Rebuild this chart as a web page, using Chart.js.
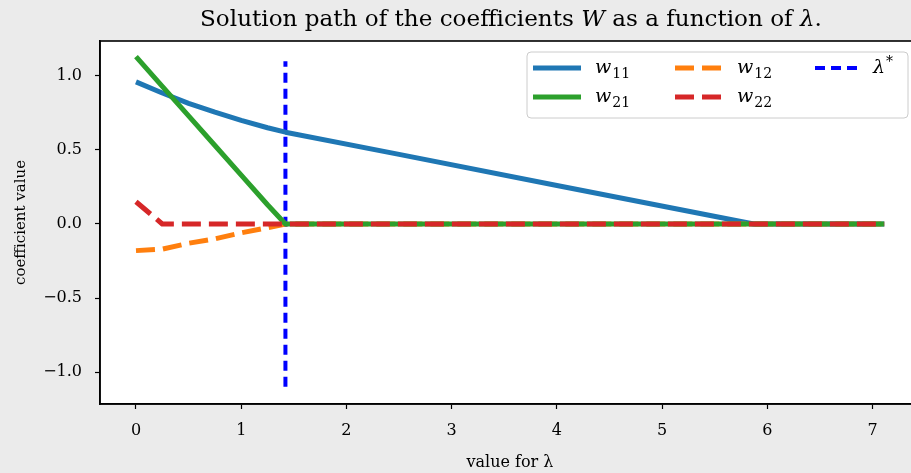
<!DOCTYPE html>
<html>
<head>
<meta charset="utf-8">
<script src="https://cdn.jsdelivr.net/npm/chart.js@4.4.1/dist/chart.umd.min.js"></script>
<style>
  html, body { margin: 0; padding: 0; background: #ebebeb; overflow: hidden; }
  #wrap { width: 925px; height: 473px; }
</style>
</head>
<body>
<div id="wrap"><canvas id="myChart" width="925" height="473"></canvas></div>
<script>
// lambda grid and coefficient paths
const lambdas = [0, 0.25, 0.5, 0.75, 1.0, 1.25, 1.42, 2.5, 4.0, 5.87, 7.11];
const w11 = [0.96, 0.885, 0.815, 0.755, 0.70, 0.65, 0.62, 0.47, 0.26, 0, 0];
const w21 = [1.13, 0.93, 0.73, 0.53, 0.33, 0.13, 0, 0, 0, 0, 0];
const w12 = [-0.18, -0.17, -0.13, -0.10, -0.06, -0.025, 0, 0, 0, 0, 0];
const w22 = [0.15, 0, 0, 0, 0, 0, 0, 0, 0, 0, 0];

const lambdaStar = 1.42;
const vlineY = [-1.1, 1.1];

const xTicks = [0, 1, 2, 3, 4, 5, 6, 7];
const yTicks = [-1.0, -0.5, 0.0, 0.5, 1.0];

const FONT = "'DejaVu Serif', 'Liberation Serif', serif";

function toPoints(ys) {
  return lambdas.map((x, i) => ({x: x, y: ys[i]}));
}

// legend entries
const legendItems = [
  {color: '#1f77b4', dash: [], main: 'w', sub: '11', col: 0, row: 0},
  {color: '#2ca02c', dash: [], main: 'w', sub: '21', col: 0, row: 1},
  {color: '#ff7f0e', dash: [19, 8], main: 'w', sub: '12', col: 1, row: 0},
  {color: '#d62728', dash: [19, 8], main: 'w', sub: '22', col: 1, row: 1},
  {color: '#0000ff', dash: [10, 6], main: 'λ', sub: '*', col: 2, row: 0, width: 4}
];

const titleAndLegend = {
  id: 'titleAndLegend',
  afterDraw(chart) {
    const ctx = chart.ctx;
    const area = chart.chartArea;
    ctx.save();

    // frame on all four sides
    ctx.strokeStyle = '#000';
    ctx.lineWidth = 1.6;
    ctx.strokeRect(area.left, area.top, area.right - area.left, area.bottom - area.top);

    // title with italic W and lambda, fitted to the reference width
    const parts = [
      ['Solution path of the coefficients ', false],
      ['W', true],
      [' as a function of ', false],
      ['λ', true],
      ['.', false]
    ];
    const measure = size => {
      let t = 0;
      parts.forEach(p => {
        ctx.font = (p[1] ? 'italic ' : '') + size + 'px ' + FONT;
        t += ctx.measureText(p[0]).width;
      });
      return t;
    };
    let size = 20;
    size = size * 622 / measure(size);
    const total = measure(size);
    let x = 511 - total / 2;
    ctx.fillStyle = '#000';
    ctx.textBaseline = 'alphabetic';
    parts.forEach(p => {
      ctx.font = (p[1] ? 'italic ' : '') + size + 'px ' + FONT;
      ctx.fillText(p[0], x, 26);
      x += ctx.measureText(p[0]).width;
    });

    // legend box
    const bx = 527, by = 52, bw = 381, bh = 66;
    ctx.beginPath();
    ctx.roundRect(bx, by, bw, bh, 4);
    ctx.fillStyle = 'rgba(255,255,255,0.8)';
    ctx.fill();
    ctx.strokeStyle = '#cccccc';
    ctx.lineWidth = 1;
    ctx.stroke();

    const colX = [533, 675, 815];
    const rowY = [68, 97];
    legendItems.forEach(it => {
      const hx = colX[it.col], hy = rowY[it.row];
      ctx.beginPath();
      ctx.setLineDash(it.dash);
      ctx.lineWidth = it.width || 5;
      ctx.strokeStyle = it.color;
      ctx.moveTo(hx, hy);
      ctx.lineTo(hx + 48, hy);
      ctx.stroke();
      ctx.setLineDash([]);
      ctx.fillStyle = '#000';
      let tx = it.sub === '*' ? hx + 58 : hx + 62;
      ctx.font = 'italic 19px ' + FONT;
      ctx.fillText(it.main, tx, hy + 5);
      const mw = ctx.measureText(it.main).width;
      ctx.font = '14px ' + FONT;
      if (it.sub === '*') {
        ctx.fillText('*', tx + mw + 1, hy - 2);
      } else {
        ctx.fillText(it.sub, tx + mw + 1, hy + 10);
      }
    });

    ctx.restore();
  }
};

const myChart = document.getElementById('myChart');

let lineChart = new Chart(myChart, {
  type: 'line',
  data: {
    datasets: [
      {label: 'w11', data: toPoints(w11), borderColor: '#1f77b4', borderWidth: 5, order: 4},
      {label: 'w21', data: toPoints(w21), borderColor: '#2ca02c', borderWidth: 5, order: 2},
      {label: 'w12', data: toPoints(w12), borderColor: '#ff7f0e', borderWidth: 5, borderDash: [19, 8], order: 3},
      {label: 'w22', data: toPoints(w22), borderColor: '#d62728', borderWidth: 5, borderDash: [19, 8], order: 1},
      {label: 'λ*', data: vlineY.map(v => ({x: lambdaStar, y: v})), borderColor: '#0000ff', borderWidth: 4, borderDash: [10, 6], order: 5}
    ]
  },
  options: {
    responsive: false,
    animation: false,
    events: [],
    elements: {
      point: {radius: 0},
      line: {tension: 0, fill: false, borderCapStyle: 'butt', borderJoinStyle: 'round'}
    },
    layout: {padding: {left: 0, top: 41, right: 5, bottom: 0}},
    plugins: {
      legend: {display: false},
      title: {display: false},
      tooltip: {enabled: false}
    },
    scales: {
      x: {
        type: 'linear',
        min: -0.342,
        max: 7.45,
        afterBuildTicks: s => { s.ticks = xTicks.map(v => ({value: v})); },
        afterFit: s => { s.height = 69; },
        grid: {drawOnChartArea: false, color: '#000', tickLength: 5, tickWidth: 1.2},
        border: {color: '#000', width: 1.6},
        ticks: {color: '#000', font: {family: FONT, size: 16}, padding: 12, callback: v => String(v)},
        title: {display: true, text: 'value for λ', color: '#000', font: {family: FONT, size: 16}, padding: {top: 0, bottom: 1}}
      },
      y: {
        type: 'linear',
        min: -1.216,
        max: 1.236,
        afterBuildTicks: s => { s.ticks = yTicks.map(v => ({value: v})); },
        afterFit: s => { s.width = 100; },
        grid: {drawOnChartArea: false, color: '#000', tickLength: 5, tickWidth: 1.2},
        border: {color: '#000', width: 1.6},
        ticks: {color: '#000', font: {family: FONT, size: 16}, padding: 13,
          callback: v => (v < 0 ? '\u2212' : '') + Math.abs(v).toFixed(1)},
        title: {display: true, text: 'coefficient value', color: '#000', font: {family: FONT, size: 15}, padding: {top: 12, bottom: 0}}
      }
    }
  },
  plugins: [{
    id: 'plotBg',
    beforeDraw(chart) {
      const a = chart.chartArea;
      chart.ctx.save();
      chart.ctx.fillStyle = '#ffffff';
      chart.ctx.fillRect(a.left, a.top, a.right - a.left, a.bottom - a.top);
      chart.ctx.restore();
    }
  }, titleAndLegend]
});
</script>
</body>
</html>
